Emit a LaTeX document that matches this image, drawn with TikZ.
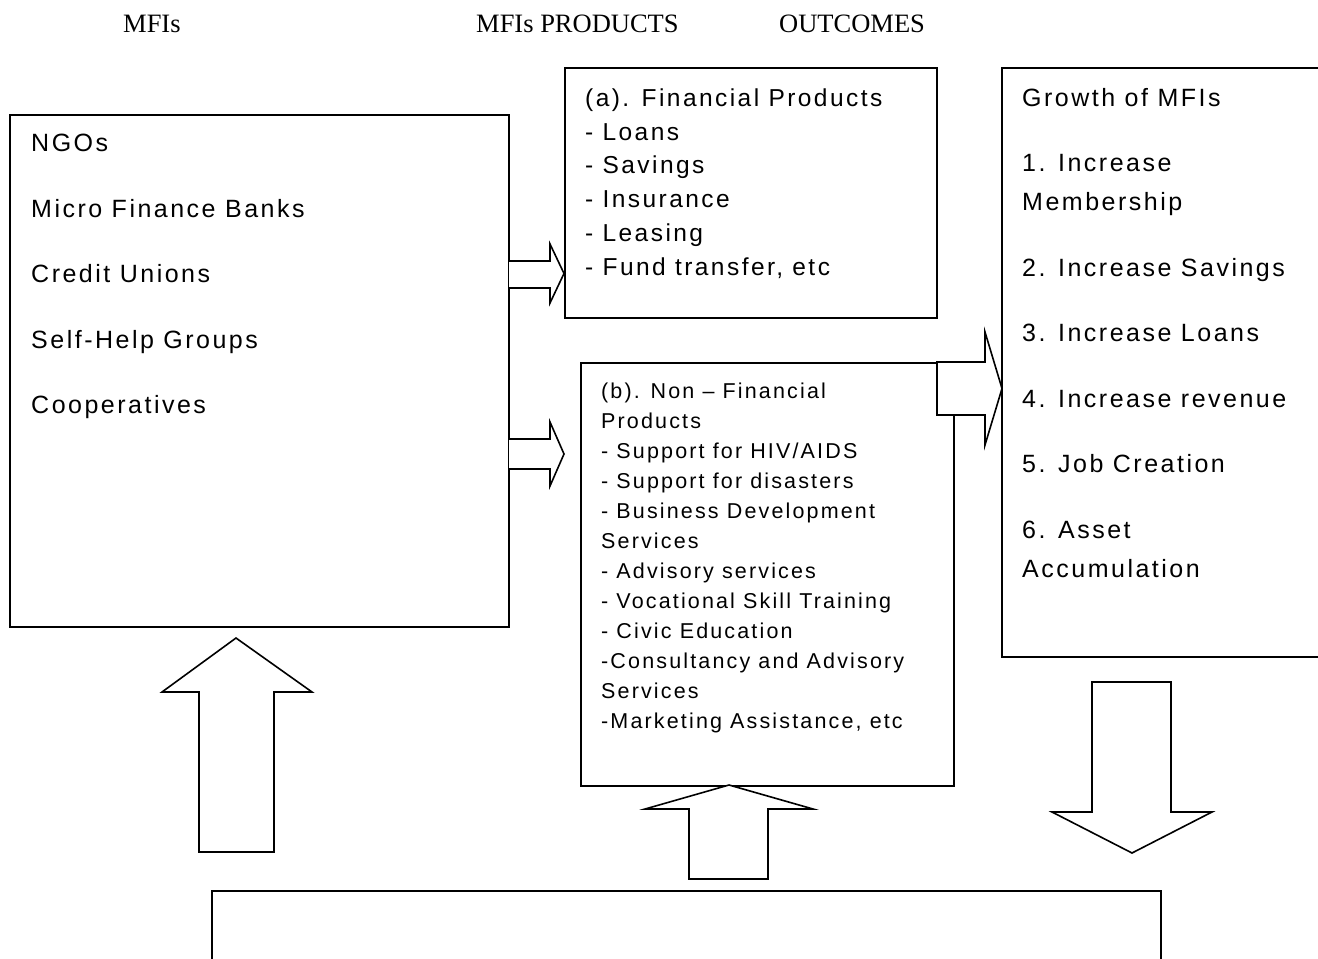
\documentclass[tikz,border=0pt]{standalone}
\usepackage{fontspec}
\setmainfont{Liberation Serif}
\newfontfamily\boxfont[LetterSpace=10]{Liberation Sans}
\begin{document}
\begin{tikzpicture}[x=1pt,y=-1pt,
  box/.style={draw=black,line width=1.6pt},
  blockarrow/.style={draw=black,fill=white,line width=1.6pt,line join=miter},
  hdr/.style={anchor=base west,inner sep=0pt,font=\fontsize{26.5}{30}\selectfont},
  bigtxt/.style={anchor=base west,inner sep=0pt,font=\boxfont\fontsize{25}{29}\selectfont},
  fintxt/.style={anchor=base west,inner sep=0pt,font=\boxfont\fontsize{24.5}{28}\selectfont},
  smalltxt/.style={anchor=base west,inner sep=0pt,font=\boxfont\fontsize{21.5}{25}\selectfont}]
\useasboundingbox (0,0) rectangle (1318,959);
% headers
\node[hdr] (h1) at (123,32) {MFIs};
\node[hdr] (h2) at (476,32) {MFIs PRODUCTS};
\node[hdr] (h3) at (779,32) {OUTCOMES};
% boxes
\draw[box] (10,115) rectangle (509,627);
\draw[box] (565,68) rectangle (937,318);
\draw[box] (581,363) rectangle (954,786);
\draw[box] (1002,68) rectangle (1340,657);
\draw[box] (212,891) rectangle (1161,990);
% left box text
\node[bigtxt] (l1) at (31,151.5) {NGOs};
\node[bigtxt] (l2) at (31,217.5) {Micro Finance Banks};
\node[bigtxt] (l3) at (31,282.5) {Credit Unions};
\node[bigtxt] (l4) at (31,348.5) {Self-Help Groups};
\node[bigtxt] (l5) at (31,413.5) {Cooperatives};
% financial products
\node[fintxt] (f1) at (585,106.5) {(a). Financial Products};
\node[fintxt] (f2) at (585,140.5) {- Loans};
\node[fintxt] (f3) at (585,173.5) {- Savings};
\node[fintxt] (f4) at (585,207.5) {- Insurance};
\node[fintxt] (f5) at (585,241.5) {- Leasing};
\node[fintxt] (f6) at (585,275.5) {- Fund transfer, etc};
% non-financial products
\node[smalltxt] (n1) at (601,398) {(b). Non – Financial};
\node[smalltxt] (n2) at (601,428) {Products};
\node[smalltxt] (n3) at (601,458) {- Support for HIV/AIDS};
\node[smalltxt] (n4) at (601,488) {- Support for disasters};
\node[smalltxt] (n5) at (601,518) {- Business Development};
\node[smalltxt] (n6) at (601,548) {Services};
\node[smalltxt] (n7) at (601,578) {- Advisory services};
\node[smalltxt] (n8) at (601,608) {- Vocational Skill Training};
\node[smalltxt] (n9) at (601,638) {- Civic Education};
\node[smalltxt] (n10) at (601,668) {-Consultancy and Advisory};
\node[smalltxt] (n11) at (601,698) {Services};
\node[smalltxt] (n12) at (601,728) {-Marketing Assistance, etc};
% outcomes
\node[bigtxt] (g1) at (1022,106.5) {Growth of MFIs};
\node[bigtxt] (g2) at (1022,171.5) {1. Increase};
\node[bigtxt] (g3) at (1022,210.5) {Membership};
\node[bigtxt] (g4) at (1022,276.5) {2. Increase Savings};
\node[bigtxt] (g5) at (1022,341.5) {3. Increase Loans};
\node[bigtxt] (g6) at (1022,407.5) {4. Increase revenue};
\node[bigtxt] (g7) at (1022,472.5) {5. Job Creation};
\node[bigtxt] (g8) at (1022,538.5) {6. Asset};
\node[bigtxt] (g9) at (1022,577.5) {Accumulation};
% block arrows
\draw[blockarrow] (509,261) -- (550,261) -- (550,244) -- (564,273.5) -- (550,303) -- (550,288) -- (509,288);
\draw[blockarrow] (509,439) -- (550,439) -- (550,422) -- (564,454) -- (550,486) -- (550,469) -- (509,469);
\draw[blockarrow] (937,362) -- (985,362) -- (985,332) -- (1002,388.5) -- (985,445) -- (985,415) -- (937,415) -- cycle;
\draw[blockarrow] (199,852) -- (199,692) -- (162,692) -- (236,638) -- (312,692) -- (274,692) -- (274,852) -- cycle;
\draw[blockarrow] (689,879) -- (689,809) -- (645,809) -- (729,785) -- (813,809) -- (768,809) -- (768,879) -- cycle;
\draw[blockarrow] (1092,682) -- (1171,682) -- (1171,812) -- (1212,812) -- (1132,853) -- (1052,812) -- (1092,812) -- cycle;
\end{tikzpicture}
\end{document}
